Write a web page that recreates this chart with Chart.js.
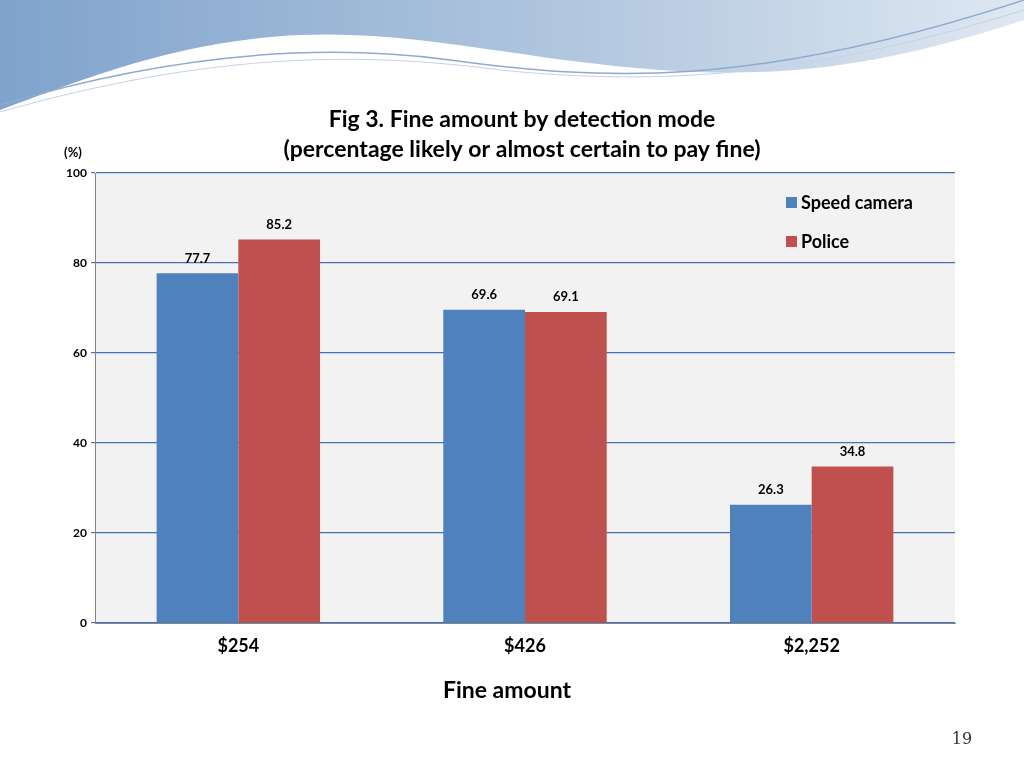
<!DOCTYPE html>
<html><head><meta charset="utf-8">
<script src="https://cdn.jsdelivr.net/npm/chart.js@4"></script>
<style>
html,body{margin:0;padding:0;background:#fff;}
#wrap{position:relative;width:1024px;height:768px;}
svg{position:absolute;left:0;top:0;}
canvas{position:absolute;left:0;top:0;}
</style></head>
<body>
<div id="wrap">
<svg width="1024" height="120">
  <defs>
    <linearGradient id="g1" x1="0" x2="1" y1="0" y2="0">
      <stop offset="0" stop-color="#7fa3cc"/><stop offset="0.6" stop-color="#b5c9e0"/><stop offset="1" stop-color="#dfe8f2"/>
    </linearGradient>
  </defs>
  <path d="M0 0 H1024 V20 C900 60 800 80 660 70 C520 60 420 30 300 35 C180 40 80 80 0 110 Z" fill="url(#g1)"/>
  <path d="M0 105 C150 60 300 40 450 60 C600 80 750 90 1024 0" fill="none" stroke="#8faad0" stroke-width="1.5"/>
  <path d="M0 112 C200 55 350 50 500 70 C650 85 800 80 1024 10" fill="none" stroke="#c4d3e6" stroke-width="1"/>
</svg>
<canvas id="c" width="1024" height="768"></canvas>
</div>
<script>
const categories = ['$254', '$426', '$2,252'];
const speedCamera = [77.7, 69.6, 26.3];
const police = [85.2, 69.1, 34.8];
const seriesNames = ['Speed camera', 'Police'];
const colors = ['#4f81bd', '#c0504d'];
const FONT = 'Lato, "Open Sans", sans-serif';

const extras = {
  id: 'extras',
  beforeDraw(chart) {
    const {ctx, chartArea: a} = chart;
    ctx.save();
    ctx.fillStyle = '#f2f2f2';
    ctx.fillRect(a.left, a.top, a.right - a.left, a.bottom - a.top);
    ctx.restore();
  },
  afterDatasetsDraw(chart) {
    const {ctx} = chart;
    ctx.save();
    ctx.fillStyle = '#000';
    ctx.textAlign = 'center';
    ctx.textBaseline = 'middle';
    // title
    ctx.font = 'bold 23px ' + FONT;
    ctx.fillText('Fig 3. Fine amount by detection mode', 522, 120);
    ctx.fillText('(percentage likely or almost certain to pay fine)', 522, 150);
    ctx.font = 'bold 13px ' + FONT;
    ctx.fillText('(%)', 73, 153);
    ctx.font = 'bold 23px ' + FONT;
    ctx.fillText('Fine amount', 507, 691);
    ctx.font = '16px "DejaVu Serif", serif';
    ctx.fillStyle = '#333';
    ctx.fillText('19', 962, 740);
    // data labels
    ctx.fillStyle = '#000';
    ctx.font = 'bold 13px ' + FONT;
    chart.data.datasets.forEach((ds, i) => {
      chart.getDatasetMeta(i).data.forEach((bar, j) => {
        ctx.fillText(ds.data[j].toFixed(1), bar.x, bar.y - 15);
      });
    });
    // legend
    ctx.textAlign = 'left';
    ctx.font = 'bold 18px ' + FONT;
    seriesNames.forEach((n, i) => {
      const y = 203 + i * 39;
      ctx.fillStyle = colors[i];
      ctx.fillRect(786, y - 6, 11, 11);
      ctx.fillStyle = '#000';
      ctx.fillText(n, 801, y);
    });
    ctx.restore();
  }
};

new Chart(document.getElementById('c'), {
  type: 'bar',
  data: {
    labels: categories,
    datasets: [
      {label: seriesNames[0], data: speedCamera, backgroundColor: colors[0]},
      {label: seriesNames[1], data: police, backgroundColor: colors[1]}
    ]
  },
  options: {
    responsive: false,
    animation: false,
    layout: {padding: {top: 173, right: 69, left: 0, bottom: 0}},
    plugins: {legend: {display: false}, tooltip: {enabled: false}},
    datasets: {bar: {categoryPercentage: 0.57, barPercentage: 1}},
    scales: {
      x: {
        grid: {display: false},
        border: {color: '#868686'},
        ticks: {color: '#000', font: {family: FONT, size: 18, weight: 'bold'}, padding: 4},
        afterFit(s) { s.height = 145; }
      },
      y: {
        min: 0, max: 100,
        ticks: {stepSize: 20, color: '#000', font: {family: FONT, size: 12, weight: 'bold'}, padding: 4},
        grid: {color: '#3f74b8', lineWidth: 1.2, drawTicks: true, tickLength: 4},
        border: {color: '#868686'},
        afterFit(s) { s.width = 95; }
      }
    }
  },
  plugins: [extras]
});
</script>
</body></html>
